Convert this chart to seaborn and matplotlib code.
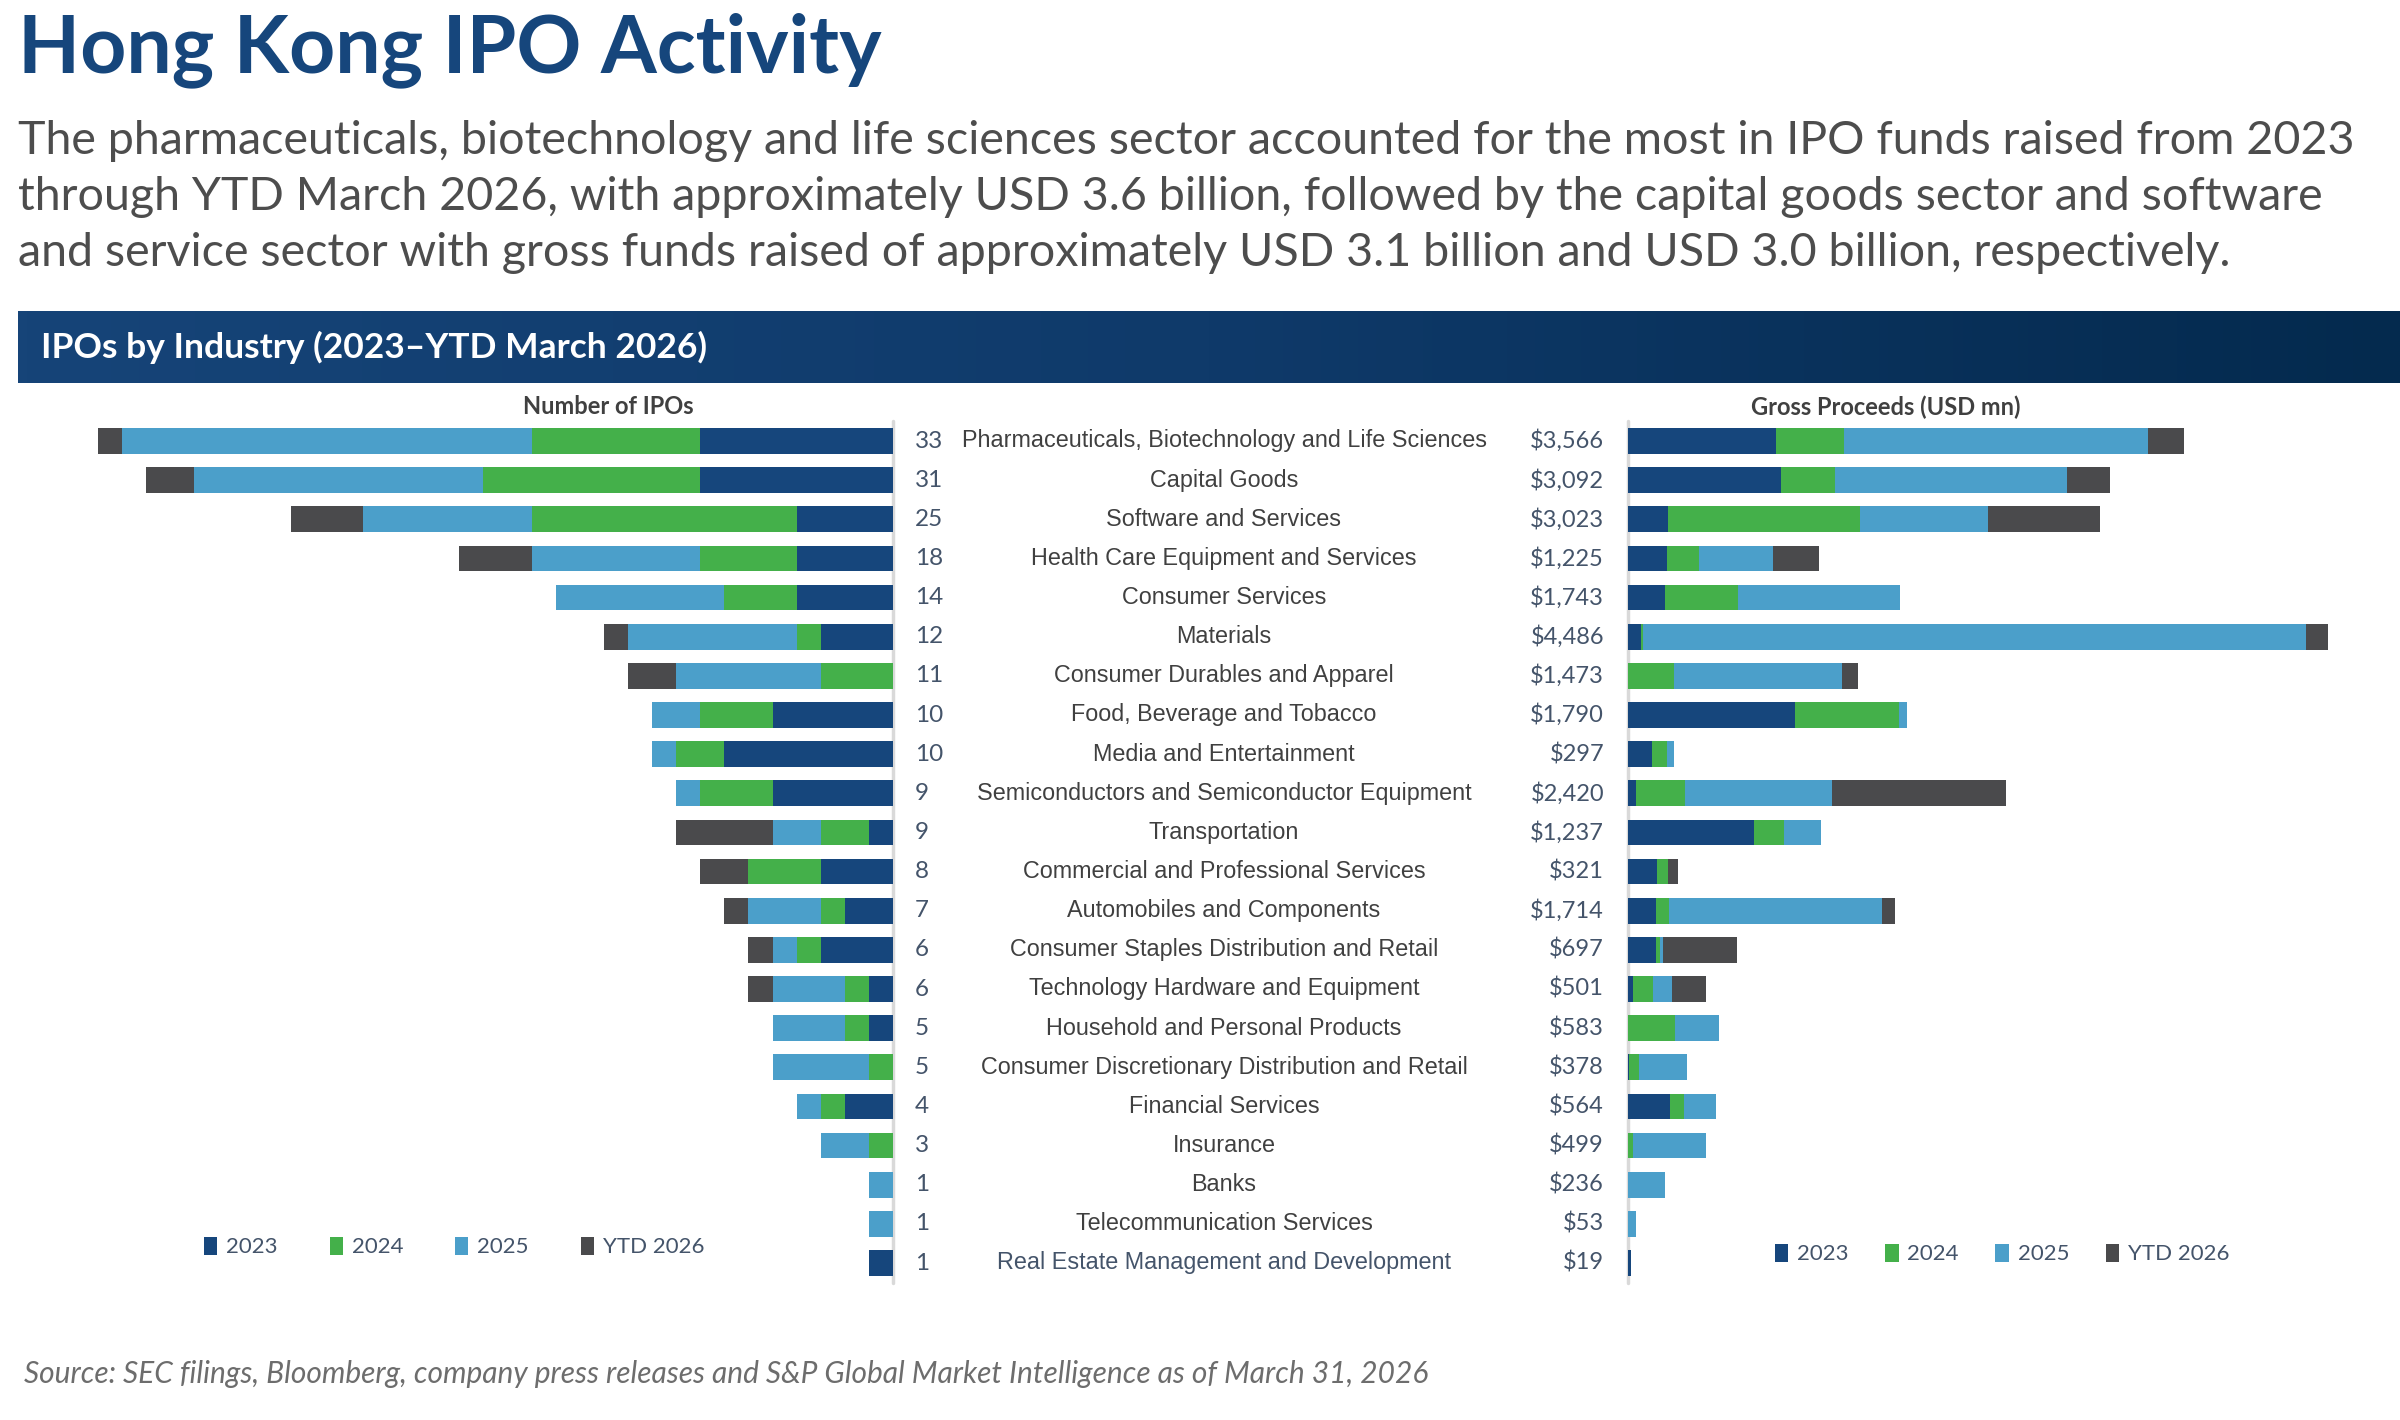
import numpy as np
import pandas as pd
import matplotlib
matplotlib.use("Agg")
import matplotlib.pyplot as plt
import matplotlib.transforms as mtransforms
from matplotlib.colors import LinearSegmentedColormap
from matplotlib.patches import Patch
import seaborn as sns

# Industries, top to bottom
industries = [
    "Pharmaceuticals, Biotechnology and Life Sciences",
    "Capital Goods",
    "Software and Services",
    "Health Care Equipment and Services",
    "Consumer Services",
    "Materials",
    "Consumer Durables and Apparel",
    "Food, Beverage and Tobacco",
    "Media and Entertainment",
    "Semiconductors and Semiconductor Equipment",
    "Transportation",
    "Commercial and Professional Services",
    "Automobiles and Components",
    "Consumer Staples Distribution and Retail",
    "Technology Hardware and Equipment",
    "Household and Personal Products",
    "Consumer Discretionary Distribution and Retail",
    "Financial Services",
    "Insurance",
    "Banks",
    "Telecommunication Services",
    "Real Estate Management and Development",
]

years = ["2023", "2024", "2025", "YTD 2026"]

# Number of IPOs per year
ipo_2023 = [8, 8, 4, 4, 4, 3, 0, 5, 7, 5, 1, 3, 2, 3, 1, 1, 0, 2, 0, 0, 0, 1]
ipo_2024 = [7, 9, 11, 4, 3, 1, 3, 3, 2, 3, 2, 3, 1, 1, 1, 1, 1, 1, 1, 0, 0, 0]
ipo_2025 = [17, 12, 7, 7, 7, 7, 6, 2, 1, 1, 2, 0, 3, 1, 3, 3, 4, 1, 2, 1, 1, 0]
ipo_ytd26 = [1, 2, 3, 3, 0, 1, 2, 0, 0, 0, 4, 2, 1, 1, 1, 0, 0, 0, 0, 0, 0, 0]

# Gross proceeds (USD mn) per year
gp_2023 = [946, 980, 255, 250, 236, 81, 0, 1071, 155, 51, 806, 184, 180, 180, 29, 0, 8, 270, 0, 0, 0, 19]
gp_2024 = [438, 347, 1229, 202, 468, 15, 295, 663, 93, 313, 196, 70, 85, 26, 129, 299, 62, 86, 30, 0, 0, 0]
gp_2025 = [1950, 1486, 821, 478, 1039, 4250, 1078, 56, 49, 942, 235, 0, 1361, 19, 126, 284, 308, 208, 469, 236, 53, 0]
gp_ytd26 = [232, 279, 718, 295, 0, 140, 100, 0, 0, 1114, 0, 67, 88, 472, 217, 0, 0, 0, 0, 0, 0, 0]

colors = ["#16467c", "#44b04a", "#4b9fca", "#4a4a4c"]
text_grey = "#44546a"

sns.set_theme(style="white")
plt.rcParams["font.family"] = ["Lato", "DejaVu Sans"]

W, H = 2400, 1420
fig = plt.figure(figsize=(W / 100, H / 100), dpi=100)


def fx(x):
    return x / W


def fy(y):
    return 1 - y / H


# header
fig.text(fx(18), fy(50), "Hong Kong IPO Activity", fontsize=58, fontweight="bold",
         color="#16467c", va="center", ha="left")
sub_lines = [
    "The pharmaceuticals, biotechnology and life sciences sector accounted for the most in IPO funds raised from 2023",
    "through YTD March 2026, with approximately USD 3.6 billion, followed by the capital goods sector and software",
    "and service sector with gross funds raised of approximately USD 3.1 billion and USD 3.0 billion, respectively.",
]
for i, line in enumerate(sub_lines):
    fig.text(fx(18), fy(141 + i * 56), line, fontsize=33.6, color="#4d4d4d",
             va="center", ha="left")

# banner with gradient
bax = fig.add_axes([fx(18), fy(383), 1 - fx(18), (383 - 311) / H])
band_cmap = LinearSegmentedColormap.from_list("band", ["#164478", "#0f3a6a", "#042a4e"])
bax.imshow(np.linspace(0, 1, 256).reshape(1, -1), aspect="auto", cmap=band_cmap,
           extent=[0, 1, 0, 1])
bax.set_axis_off()
bax.text(0.0098, 0.5, "IPOs by Industry (2023\u2013YTD March 2026)", color="white",
         fontsize=25.5, fontweight="bold", va="center", ha="left", transform=bax.transAxes)

# data frames with cumulative stacks
ipo = pd.DataFrame({"industry": industries, "2023": ipo_2023, "2024": ipo_2024,
                    "2025": ipo_2025, "YTD 2026": ipo_ytd26})
gp = pd.DataFrame({"industry": industries, "2023": gp_2023, "2024": gp_2024,
                   "2025": gp_2025, "YTD 2026": gp_ytd26})
for df in (ipo, gp):
    df["c1"] = df["2023"]
    df["c2"] = df["c1"] + df["2024"]
    df["c3"] = df["c2"] + df["2025"]
    df["c4"] = df["c3"] + df["YTD 2026"]

row_top, row_bot = 441, 1263
step = (row_bot - row_top) / (len(industries) - 1)
ax_top = row_top - step / 2
ax_bot = row_bot + step / 2

axL = fig.add_axes([fx(98), fy(ax_bot), (893 - 98) / W, (ax_bot - ax_top) / H])
axR = fig.add_axes([fx(1628), fy(ax_bot), 700 / W, (ax_bot - ax_top) / H])

for ax, df in ((axL, ipo), (axR, gp)):
    for col, c in zip(["c4", "c3", "c2", "c1"], colors[::-1]):
        sns.barplot(data=df, x=col, y="industry", orient="h", color=c, saturation=1,
                    width=0.66, errorbar=None, ax=ax, linewidth=0)
    ax.set_ylim(len(industries) - 0.5, -0.5)
    ax.set_xlabel("")
    ax.set_ylabel("")
    ax.set_xticks([])
    ax.set_yticks([])
    sns.despine(ax=ax, left=True, bottom=True)
    ax.set_facecolor("none")

axL.set_xlim(ipo["c4"].max(), 0)
axR.set_xlim(0, gp["c4"].max())
axL.axvline(0, color="#d9d9d9", lw=2.5, clip_on=False, zorder=0)
axR.axvline(0, color="#d9d9d9", lw=2.5, clip_on=False, zorder=0)

# panel titles
fig.text(fx(608), fy(407), "Number of IPOs", fontsize=17, fontweight="bold",
         color="#404040", ha="center", va="center")
fig.text(fx(1886), fy(407), "Gross Proceeds (USD mn)", fontsize=17, fontweight="bold",
         color="#404040", ha="center", va="center")

# centre labels
trans = mtransforms.blended_transform_factory(fig.transFigure, axL.transData)
for i, name in enumerate(industries):
    fig.text(fx(915), i, f"{ipo['c4'][i]}", transform=trans, fontsize=17.5,
             color=text_grey, ha="left", va="center")
    lab_col = text_grey if i == len(industries) - 1 else "#404040"
    fig.text(fx(1224), i, name, transform=trans, fontsize=16.8, color=lab_col,
             ha="center", va="center", family=["Liberation Sans", "DejaVu Sans"])
    fig.text(fx(1604), i, f"${gp['c4'][i]:,}", transform=trans, fontsize=17,
             color=text_grey, ha="right", va="center")

# legends
handles = [Patch(facecolor=c, edgecolor="none") for c in colors]
fig.legend(handles, years, loc="center left", bbox_to_anchor=(fx(204), fy(1247)),
           ncol=4, frameon=False, fontsize=16, labelcolor=text_grey,
           handlelength=0.6, handleheight=0.9, handletextpad=0.4, columnspacing=2.33,
           borderaxespad=0, borderpad=0)
fig.legend(handles, years, loc="center left", bbox_to_anchor=(fx(1775), fy(1254)),
           ncol=4, frameon=False, fontsize=16, labelcolor=text_grey,
           handlelength=0.6, handleheight=0.9, handletextpad=0.4, columnspacing=1.64,
           borderaxespad=0, borderpad=0)

fig.text(fx(24), fy(1374),
         "Source: SEC filings, Bloomberg, company press releases and S&P Global Market Intelligence as of March 31, 2026",
         fontsize=21.5, style="italic", color="#6d6d6d", ha="left", va="center")

fig.savefig("out.png", dpi=100)
